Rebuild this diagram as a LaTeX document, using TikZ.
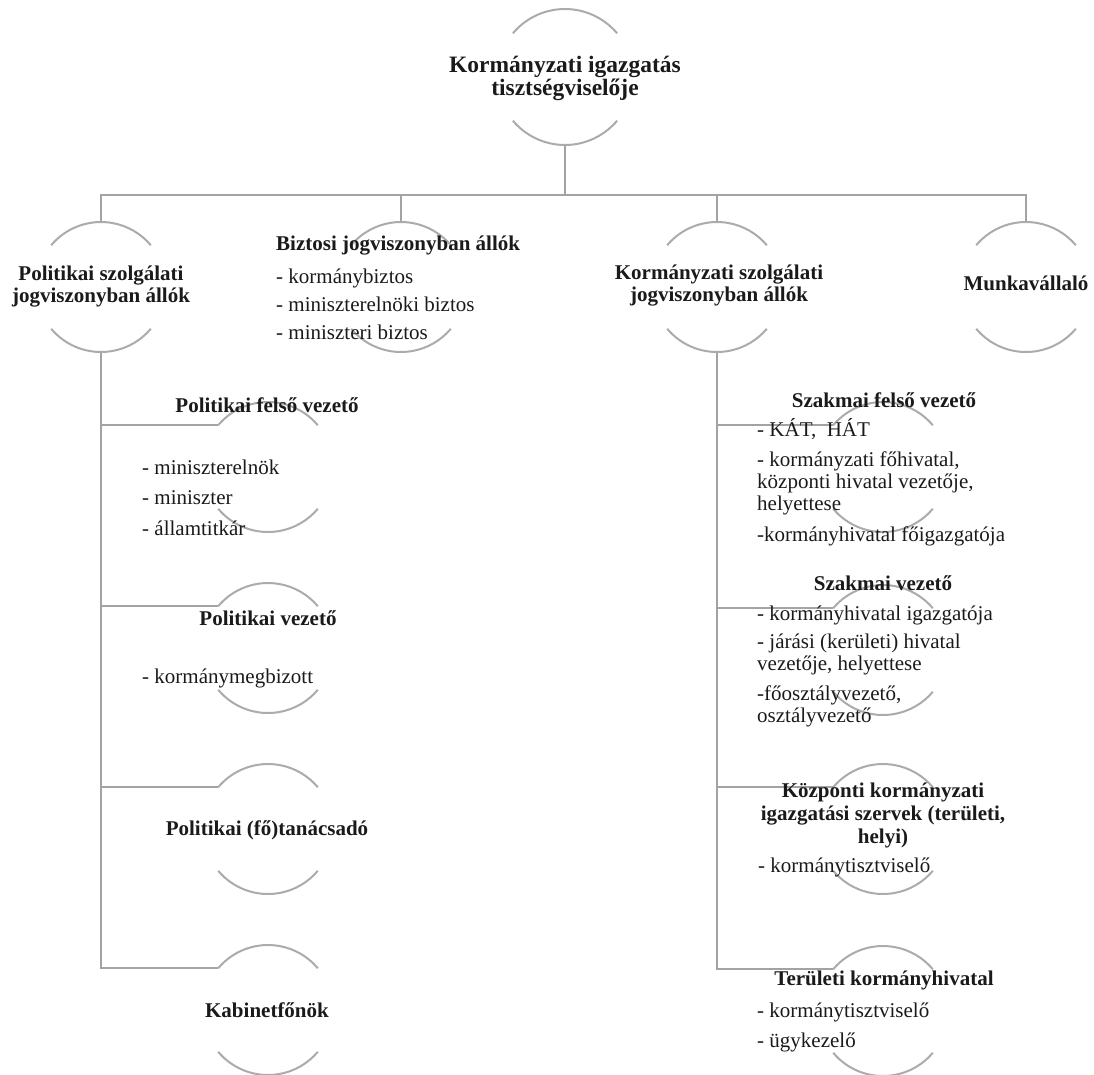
\documentclass[tikz,border=0pt]{standalone}
\usepackage{fontspec,xcolor,tikz}
\setmainfont{Liberation Serif}
\definecolor{tinta}{HTML}{1A1A1A}
\definecolor{vonal}{HTML}{A3A3A3}
\definecolor{ivszurke}{HTML}{ABABAB}
\newcommand{\gyokerbetu}{\fontsize{23.5}{23}\selectfont\bfseries}
\newcommand{\cimbetu}{\fontsize{21}{22}\selectfont\bfseries}
\newcommand{\listabetu}{\fontsize{21}{22}\selectfont}
\tikzset{osszekoto/.style={vonal,line width=2.4pt},
  ivvonal/.style={ivszurke,line width=2pt},
  kor/.style={circle,inner sep=0,outer sep=0,minimum size=#1},kor/.default=130pt,
  cim/.style={inner sep=0,align=center,text=tinta,font=\cimbetu},
  lista/.style={inner sep=0,align=left,anchor=west,text=tinta,font=\listabetu}}

\begin{document}
\begin{tikzpicture}[x=1pt,y=1pt]
\useasboundingbox (0,0) rectangle (1094,-1074);
\node[kor=136pt] (gyoker) at (565,-77) {};
\node[kor] (polsz) at (101,-287) {};\node[kor] (bizt) at (401,-287) {};
\node[kor] (kormsz) at (717,-287) {};\node[kor] (munka) at (1026,-287) {};
\node[kor] (pfv) at (268,-467) {};\node[kor] (pv) at (268,-648) {};
\node[kor] (ptan) at (268,-829) {};\node[kor] (kab) at (268,-1010) {};
\node[kor] (sfv) at (883,-467) {};\node[kor] (sv) at (883,-650) {};
\node[kor] (kozp) at (883,-829) {};\node[kor] (ter) at (883,-1011) {};
\coordinate (busz) at (565,-195);
\draw[osszekoto] (gyoker.south) -- (busz);
\draw[osszekoto] (polsz.north) -- (polsz.north |- busz) -- (munka.north |- busz) -- (munka.north);
\draw[osszekoto] (bizt.north) -- (bizt.north |- busz);
\draw[osszekoto] (kormsz.north) -- (kormsz.north |- busz);
\draw[osszekoto] (polsz.south) -- (polsz.south |- kab.140) -- (kab.140);
\foreach \n in {pfv,pv,ptan} \draw[osszekoto] (polsz.south |- \n.140) -- (\n.140);
\draw[osszekoto] (kormsz.south) -- (kormsz.south |- ter.140) -- (ter.140);
\foreach \n in {sfv,sv,kozp} \draw[osszekoto] (kormsz.south |- \n.140) -- (\n.140);
\foreach \n/\r in {gyoker/68,polsz/65,bizt/65,kormsz/65,munka/65,pfv/65,pv/65,ptan/65,kab/65,sfv/65,sv/65,kozp/65,ter/65}{
  \draw[ivvonal] (\n.140) arc[start angle=140,end angle=40,radius=\r];
  \draw[ivvonal] (\n.220) arc[start angle=220,end angle=320,radius=\r];}
\node[cim,font=\gyokerbetu] (gyokercim) at (565,-78) {Kormányzati igazgatás\\tisztségviselője};
\node[cim] (polszcim) at (101,-287) {Politikai szolgálati\\jogviszonyban állók};
\node[lista,font=\fontsize{21}{28}\selectfont] (biztlista) at (276,-287.5) {\textbf{Biztosi jogviszonyban állók}\\[5pt]- kormánybiztos\\- miniszterelnöki biztos\\- miniszteri biztos};
\node[cim] (kormszcim) at (719,-286) {Kormányzati szolgálati\\jogviszonyban állók};
\node[cim] (munkacim) at (1026,-283) {Munkavállaló};
\node[cim] (pfvcim) at (267,-405) {Politikai felső vezető};
\node[lista,font=\fontsize{21}{30.5}\selectfont] (pfvlista) at (142,-497.5) {- miniszterelnök\\- miniszter\\- államtitkár};
\node[cim] (pvcim) at (268,-618) {Politikai vezető};
\node[lista] (pvlista) at (142,-678) {- kormánymegbizott};
\node[cim] (ptancim) at (267,-830) {Politikai (fő)tanácsadó};
\node[cim] (kabcim) at (267,-1010) {Kabinetfőnök};
\node[cim] (sfvcim) at (884,-400) {Szakmai felső vezető};
\node[lista] (sfvlista) at (757,-482.5) {- KÁT,~~HÁT\\[8pt]- kormányzati főhivatal,\\központi hivatal vezetője,\\helyettese\\[9pt]-kormányhivatal főigazgatója};
\node[cim] (svcim) at (883,-583) {Szakmai vezető};
\node[lista] (svlista) at (757,-666.5) {- kormányhivatal igazgatója\\[6pt]- járási (kerületi) hivatal\\vezetője, helyettese\\[8pt]-főosztályvezető,\\osztályvezető};
\node[cim,font=\fontsize{21}{23}\selectfont\bfseries] (kozpcim) at (883,-815) {Központi kormányzati\\igazgatási szervek (területi,\\helyi)};
\node[lista] (kozplista) at (758,-867) {- kormánytisztviselő};
\node[cim] (tercim) at (884,-980) {Területi kormányhivatal};
\node[lista,font=\fontsize{21}{30}\selectfont] (terlista) at (757,-1027) {- kormánytisztviselő\\- ügykezelő};
\end{tikzpicture}
\end{document}
